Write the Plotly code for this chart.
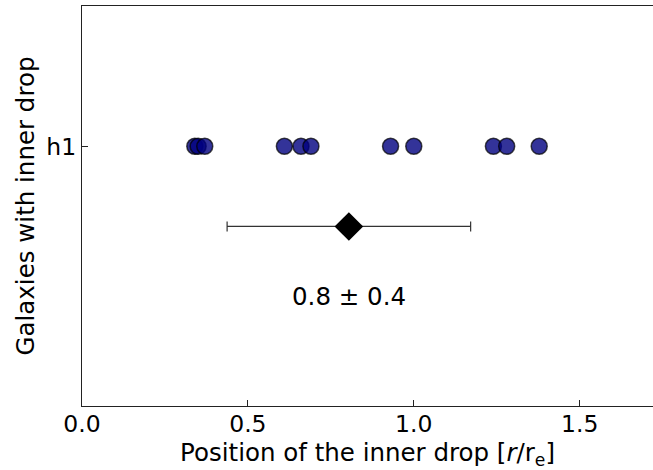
import numpy as np
import plotly.graph_objects as go

# Radial positions of the inner drop for galaxy h1, in units of r_e
galaxy = "h1"
drop_positions = [0.340, 0.350, 0.370, 0.610, 0.660, 0.690, 0.930, 1.000, 1.240, 1.280, 1.378]

y_galaxy = 1.0
y_summary = 0.75
y_label = 0.53

mean_pos = float(np.mean(drop_positions))
std_pos = float(np.std(drop_positions))

font = "DejaVu Sans, sans-serif"
fs = 24.5
tick_fs = 23.5

fig = go.Figure()

fig.add_trace(go.Scatter(
    x=drop_positions,
    y=[y_galaxy] * len(drop_positions),
    mode="markers",
    marker=dict(size=16, color="rgba(0,0,128,0.8)",
                line=dict(color="rgba(0,0,0,0.7)", width=1.5)),
    showlegend=False,
))

fig.add_trace(go.Scatter(
    x=[mean_pos],
    y=[y_summary],
    mode="markers",
    marker=dict(symbol="diamond", size=22, color="black"),
    error_x=dict(type="data", array=[std_pos], color="#333333",
                 thickness=1.2, width=5),
    showlegend=False,
))

fig.add_annotation(
    x=mean_pos, y=y_label,
    text=f"{mean_pos:.1f} ± {std_pos:.1f}",
    showarrow=False,
    font=dict(family=font, size=fs, color="black"),
)

fig.update_layout(
    width=653, height=470,
    margin=dict(l=82, r=0, t=6, b=64),
    plot_bgcolor="white",
    paper_bgcolor="white",
    font=dict(family=font, size=fs, color="black"),
    xaxis=dict(
        range=[0, 1.721],
        tickvals=[0.0, 0.5, 1.0, 1.5],
        ticktext=["0.0", "0.5", "1.0", "1.5"],
        ticks="inside", ticklen=6, tickcolor="#222",
        ticklabelstandoff=-3,
        showline=True, linecolor="#222", linewidth=1.2, mirror=True,
        showgrid=False, zeroline=False,
        title=dict(text="Position of the inner drop [<i>r</i>/r<sub>e</sub>]",
                   font=dict(family=font, size=fs)),
        tickfont=dict(family=font, size=tick_fs),
    ),
    yaxis=dict(
        range=[0.19, 1.4375],
        tickvals=[y_galaxy],
        ticktext=[galaxy],
        ticks="inside", ticklen=6, tickcolor="#222",
        showline=True, linecolor="#222", linewidth=1.2,
        showgrid=False, zeroline=False,
        title=dict(text="Galaxies with inner drop",
                   font=dict(family=font, size=fs), standoff=4),
        tickfont=dict(family=font, size=tick_fs),
    ),
)

fig.write_html("out.html")
